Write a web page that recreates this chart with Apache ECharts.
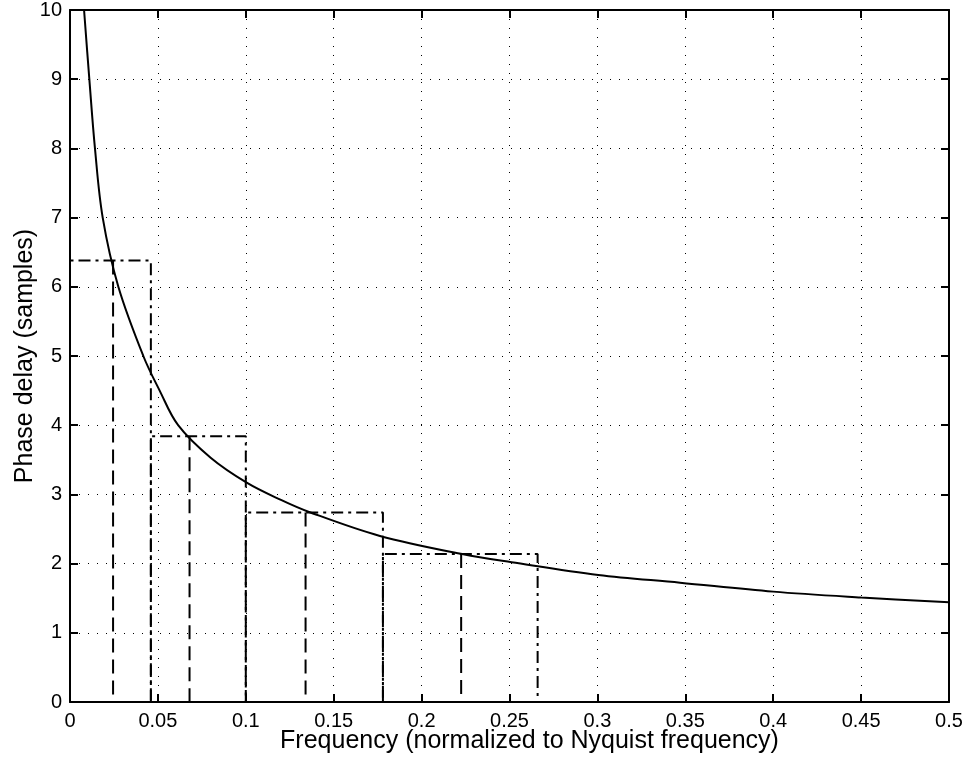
<!DOCTYPE html>
<html>
<head>
<meta charset="utf-8">
<script src="https://cdn.jsdelivr.net/npm/echarts@6/dist/echarts.min.js"></script>
<style>
  html, body { margin: 0; padding: 0; background: #fff; }
  #chart { width: 969px; height: 761px; }
</style>
</head>
<body>
<div id="chart"></div>
<script>
// phase delay curve
const freq = [0.008, 0.011, 0.0142, 0.0186, 0.0275, 0.0417, 0.051, 0.0615, 0.08,
              0.1005, 0.12, 0.1356, 0.1763, 0.2237, 0.2512, 0.3005, 0.347, 0.4, 0.45, 0.5];
const delay = [10, 9, 8, 7, 6, 5, 4.5, 4.0, 3.53,
               3.17, 2.92, 2.75, 2.4, 2.135, 2.02, 1.836, 1.725, 1.595, 1.51, 1.44];

// frequency bands (dash-dot boxes) and their centre frequencies (dashed lines)
const bandEdges = [0, 0.046, 0.1, 0.178, 0.266];
const bandLevels = [6.38, 3.84, 2.74, 2.14];
const bandCenters = [0.0245, 0.068, 0.134, 0.2225];

const xTickLabels = ['0', '0.05', '0.1', '0.15', '0.2', '0.25', '0.3', '0.35', '0.4', '0.45', '0.5'];
const yTickLabels = ['0', '1', '2', '3', '4', '5', '6', '7', '8', '9', '10'];

const chart = echarts.init(document.getElementById('chart'));

let series = [];
series.push({
    name: 'delay',
    type: 'line',
    data: freq.map((f, i) => [f, delay[i]]),
    showSymbol: false,
    smooth: 0.35,
    clip: true,
    lineStyle: { color: '#000', width: 2 },
    z: 5
});
for (let i = 0; i < bandLevels.length; i++) {
    series.push({
        type: 'line',
        data: [[bandEdges[i], 0], [bandEdges[i], bandLevels[i]], [bandEdges[i + 1], bandLevels[i]], [bandEdges[i + 1], 0]],
        showSymbol: false,
        lineStyle: { color: '#000', width: 2, type: [12, 5, 3, 5] },
        z: 4
    });
    series.push({
        type: 'line',
        data: [[bandCenters[i], bandLevels[i]], [bandCenters[i], 0]],
        showSymbol: false,
        lineStyle: { color: '#000', width: 2, type: [14, 7] },
        z: 4
    });
}

const font = 'Liberation Sans, Arial, Helvetica, sans-serif';
const tick = { show: true, inside: true, length: 8, lineStyle: { color: '#000', width: 2 } };
const axLine = { show: true, onZero: false, lineStyle: { color: '#000', width: 2 } };
const grid = { show: true, lineStyle: { color: '#000', width: 1, type: [1, 8] } };

chart.setOption({
    animation: false,
    backgroundColor: '#fff',
    grid: { left: 70, right: 20, top: 10, bottom: 59 },
    xAxis: [
        {
            type: 'value', min: 0, max: 0.5, interval: 0.05, position: 'bottom',
            name: 'Frequency (normalized to Nyquist frequency)',
            nameLocation: 'middle', nameGap: 27, nameMoveOverlap: false,
            nameTextStyle: { color: '#000', fontSize: 25, fontFamily: font, padding: [0, 0, 0, 40] },
            axisLine: axLine, axisTick: tick, splitLine: grid,
            axisLabel: {
                color: '#000', fontSize: 20, fontFamily: font, margin: 9,
                formatter: v => xTickLabels[Math.round(v / 0.05)]
            }
        },
        {
            type: 'value', min: 0, max: 0.5, interval: 0.05, position: 'top',
            axisLine: axLine, axisTick: tick, splitLine: { show: false }, axisLabel: { show: false }
        }
    ],
    yAxis: [
        {
            type: 'value', min: 0, max: 10, interval: 1, position: 'left',
            name: 'Phase delay (samples)',
            nameLocation: 'middle', nameGap: 32, nameMoveOverlap: false,
            nameTextStyle: { color: '#000', fontSize: 25, fontFamily: font },
            axisLine: axLine, axisTick: tick, splitLine: grid,
            axisLabel: {
                color: '#000', fontSize: 20, fontFamily: font, margin: 8,
                formatter: v => yTickLabels[Math.round(v)]
            }
        },
        {
            type: 'value', min: 0, max: 10, interval: 1, position: 'right',
            axisLine: axLine, axisTick: tick, splitLine: { show: false }, axisLabel: { show: false }
        }
    ],
    series: series
});
</script>
</body>
</html>
